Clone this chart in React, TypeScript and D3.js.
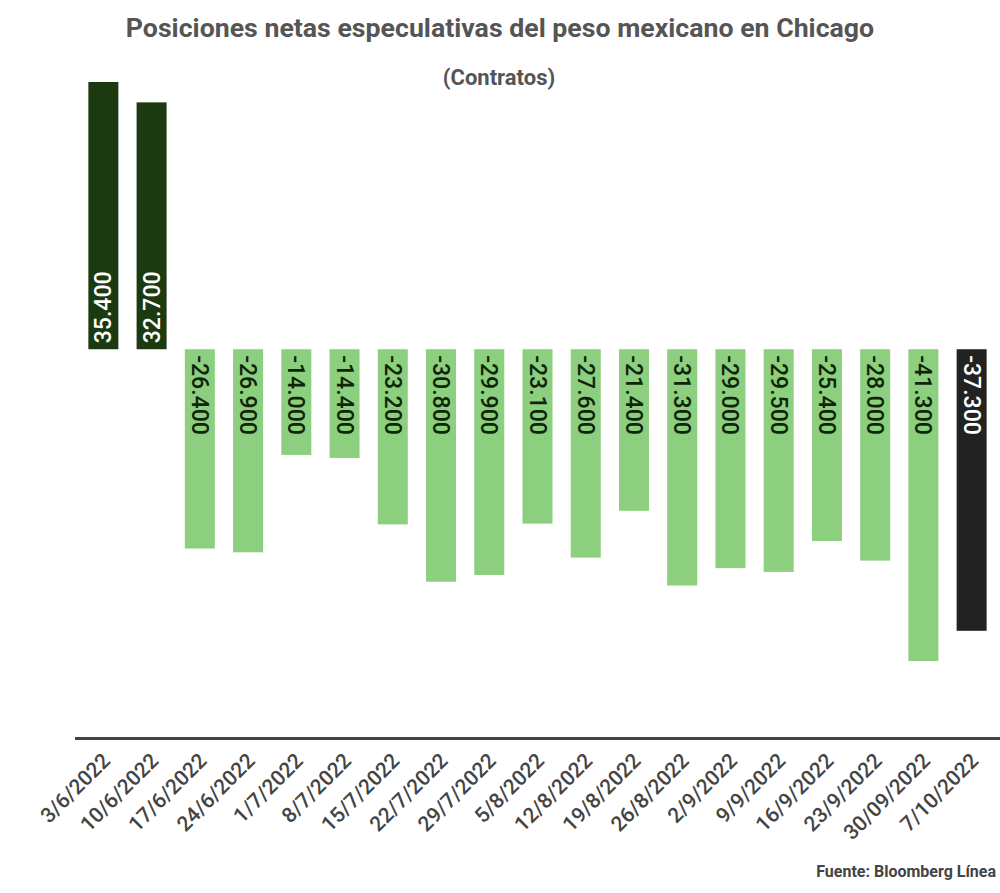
import React from 'react';
import * as d3 from 'd3';

// Chart data
const dates = [
  '3/6/2022', '10/6/2022', '17/6/2022', '24/6/2022', '1/7/2022', '8/7/2022',
  '15/7/2022', '22/7/2022', '29/7/2022', '5/8/2022', '12/8/2022', '19/8/2022',
  '26/8/2022', '2/9/2022', '9/9/2022', '16/9/2022', '23/9/2022', '30/09/2022',
  '7/10/2022',
];
const positions = [
  35400, 32700, -26400, -26900, -14000, -14400, -23200, -30800, -29900,
  -23100, -27600, -21400, -31300, -29000, -29500, -25400, -28000, -41300,
  -37300,
];

const title = 'Posiciones netas especulativas del peso mexicano en Chicago';
const subtitle = '(Contratos)';
const source = 'Fuente: Bloomberg Línea';

const width = 1000;
const height = 893;
const font = 'Roboto, "Noto Sans", sans-serif';

const fmt = d3
  .formatLocale({ decimal: ',', thousands: '.', grouping: [3], currency: ['$', ''], minus: '-' })
  .format(',d');

const App = () => {
  const x = d3
    .scaleBand<string>()
    .domain(dates)
    .range([75, 1000])
    .paddingInner(0.378)
    .paddingOuter(0.277);

  const y = d3
    .scaleLinear()
    .domain([-41300, 35400])
    .range([661, 82]);

  const zero = y(0);
  const lastIdx = dates.length - 1;

  const barColor = (v: number, i: number) =>
    i === lastIdx ? '#222222' : v >= 0 ? '#1b3a0f' : '#8ccf7e';
  const textColor = (v: number, i: number) =>
    i === lastIdx || v >= 0 ? '#ffffff' : '#10240a';

  return (
    <svg
      width={width}
      height={height}
      style={{ position: 'absolute', left: 0, top: 0, background: '#fff' }}
      fontFamily={font}
    >
      <text x={500} y={37} textAnchor="middle" fontSize={26.7} fontWeight="bold" fill="#555">
        {title}
      </text>
      <text x={499} y={85} textAnchor="middle" fontSize={22} fontWeight="bold" fill="#555">
        {subtitle}
      </text>

      {/* bars */}
      {positions.map((v, i) => {
        const bx = x(dates[i]) ?? 0;
        const top = v >= 0 ? y(v) : zero;
        const h = Math.abs(y(v) - zero);
        const cx = bx + x.bandwidth() / 2;
        return (
          <g key={dates[i]}>
            <rect x={bx} y={top} width={x.bandwidth()} height={h} fill={barColor(v, i)} />
            {v >= 0 ? (
              <text
                transform={`translate(${cx + 8},${zero - 6}) rotate(-90)`}
                fontSize={23}
                fontWeight={500}
                fill={textColor(v, i)}
              >
                {fmt(v)}
              </text>
            ) : (
              <text
                transform={`translate(${cx - 8},${zero + 6}) rotate(90)`}
                fontSize={23}
                fontWeight={500}
                fill={textColor(v, i)}
              >
                {fmt(v)}
              </text>
            )}
          </g>
        );
      })}

      {/* x axis */}
      <line x1={75} x2={1000} y1={738.5} y2={738.5} stroke="#444" strokeWidth={3} />
      {dates.map((d) => {
        const cx = (x(d) ?? 0) + x.bandwidth() / 2;
        return (
          <text
            key={d}
            transform={`translate(${cx + 8},${762}) rotate(-45)`}
            textAnchor="end"
            fontSize={21}
            fontWeight={500}
            fill="#444"
          >
            {d}
          </text>
        );
      })}

      <text x={996} y={877} textAnchor="end" fontSize={16} fontWeight="bold" fill="#444">
        {source}
      </text>
    </svg>
  );
};

export default App;
